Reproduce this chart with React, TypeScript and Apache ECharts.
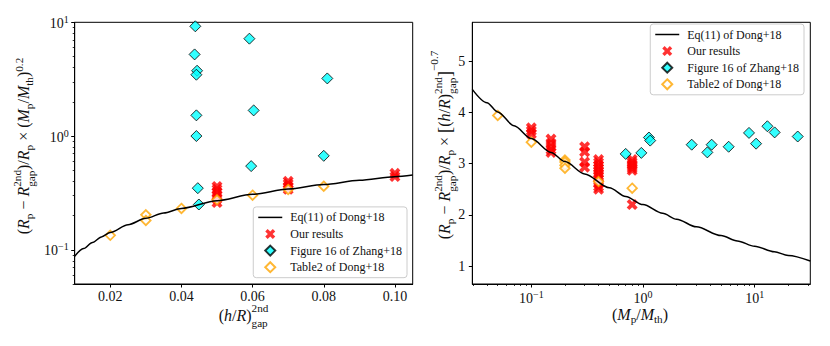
import React, { useEffect, useRef } from 'react';
import * as echarts from 'echarts';

// ---------- data ----------
// Left panel: x = (h/R)_gap^2nd, y = (Rp - Rgap)/Rp * (Mp/Mth)^0.2  (log y)
const leftCurveX = [0.01, 0.0125, 0.015, 0.0175, 0.02, 0.025, 0.03, 0.035, 0.04, 0.05, 0.06, 0.07, 0.08, 0.09, 0.1, 0.105];
const leftCurveY = [0.0876, 0.1024, 0.116, 0.1296, 0.142, 0.166, 0.189, 0.2106, 0.231, 0.27, 0.307, 0.342, 0.375, 0.408, 0.439, 0.454];
const leftOursX = [0.05, 0.05, 0.05, 0.05, 0.05, 0.05, 0.07, 0.07, 0.07, 0.07, 0.1, 0.1];
const leftOursY = [0.26, 0.28, 0.3, 0.32, 0.34, 0.36, 0.34, 0.36, 0.38, 0.4, 0.44, 0.47];
const leftZhangX = [0.0439, 0.0437, 0.0444, 0.0442, 0.0442, 0.0442, 0.0446, 0.0449, 0.0591, 0.0603, 0.0596, 0.081, 0.08];
const leftZhangY = [9.22, 5.22, 3.75, 3.46, 1.52, 1.0, 0.348, 0.25, 7.18, 1.68, 0.544, 3.21, 0.67];
const leftDongX = [0.02, 0.03, 0.03, 0.04, 0.05, 0.06, 0.07, 0.08];
const leftDongY = [0.134, 0.203, 0.181, 0.231, 0.275, 0.302, 0.339, 0.362];

// Right panel: x = Mp/Mth (log), y = (Rp - Rgap)/Rp * [(h/R)]^-0.7
const rightCurveX = [0.0296, 0.04, 0.05, 0.07, 0.1, 0.15, 0.2, 0.3, 0.5, 0.7, 1, 1.5, 2, 3, 5, 7, 10, 15, 20, 31.5];
const rightCurveY = [4.45, 4.19, 4.01, 3.74, 3.49, 3.22, 3.04, 2.8, 2.53, 2.36, 2.2, 2.03, 1.915, 1.766, 1.595, 1.491, 1.388, 1.28, 1.208, 1.1];
const rightOursX = [0.1, 0.1, 0.1, 0.15, 0.15, 0.15, 0.15, 0.15, 0.3, 0.3, 0.3, 0.3,
  0.4, 0.4, 0.4, 0.4, 0.4, 0.4, 0.4, 0.4, 0.4, 0.4, 0.4, 0.8, 0.8, 0.8, 0.8, 0.8, 0.8, 0.8];
const rightOursY = [3.7, 3.64, 3.58, 3.48, 3.4, 3.33, 3.27, 3.22, 3.33, 3.23, 3.03, 2.93,
  3.08, 3.02, 2.96, 2.91, 2.86, 2.81, 2.76, 2.7, 2.62, 2.55, 2.5, 3.08, 3.03, 2.99, 2.95, 2.91, 2.87, 2.2];
const rightZhangX = [0.7, 0.966, 1.13, 1.16, 2.73, 3.77, 4.12, 5.85, 8.9, 10.3, 13.0, 15.1, 24.3];
const rightZhangY = [3.19, 3.21, 3.51, 3.45, 3.37, 3.22, 3.37, 3.33, 3.6, 3.39, 3.73, 3.61, 3.53];
const rightDongX = [0.05, 0.1, 0.2, 0.2, 0.2, 0.2, 0.4, 0.8];
const rightDongY = [3.94, 3.42, 3.07, 3.03, 2.97, 2.91, 2.65, 2.52];

// ticks
const leftXTicks = [0.02, 0.04, 0.06, 0.08, 0.1];
const leftYMajor = [0.1, 1, 10];
const leftYMinor = [0.05, 0.06, 0.07, 0.08, 0.09, 0.2, 0.3, 0.4, 0.5, 0.6, 0.7, 0.8, 0.9, 2, 3, 4, 5, 6, 7, 8, 9];
const rightXMajor = [0.1, 1, 10];
const rightXMinor = [0.03, 0.04, 0.05, 0.06, 0.07, 0.08, 0.09, 0.2, 0.3, 0.4, 0.5, 0.6, 0.7, 0.8, 0.9, 2, 3, 4, 5, 6, 7, 8, 9, 20, 30];
const rightYTicks = [1, 2, 3, 4, 5];

const NAMES = ['Eq(11) of Dong+18', 'Our results', 'Figure 16 of Zhang+18', 'Table2 of Dong+18'];

// ---------- styling ----------
const SERIF = "'Liberation Serif', 'Times New Roman', serif";
const TXT = '#111';
const X_PATH = 'path://M0,2.4L2.4,0L5,2.6L7.6,0L10,2.4L7.4,5L10,7.6L7.6,10L5,7.4L2.4,10L0,7.6L2.6,5Z';
const DIAMOND_PATH = 'path://M5,0L10,5L5,10L0,5Z';
const LINE_ICON = 'path://M0,0L24,0L24,1.5L0,1.5Z';
const lg = (v: number) => Math.log10(v);

const powLabel = (v: number) => {
  const e = Math.round(v);
  return '{b|10}{s|' + (e < 0 ? '\u2212' + -e : String(e)) + '}';
};
const powRich = {
  b: { fontFamily: SERIF, fontSize: 14, lineHeight: 16, color: TXT, verticalAlign: 'bottom' },
  s: { fontFamily: SERIF, fontSize: 10, lineHeight: 8, color: TXT, verticalAlign: 'top' },
};

type Piece = { t: string; s?: number; i?: boolean; d?: number; st?: boolean };
const I = (t: string): Piece => ({ t, i: true });
const N = (t: string): Piece => ({ t });
const sub = (t: string): Piece => ({ t, s: 0.7, d: 0.22 });
const sup = (t: string, d = -0.42): Piece => ({ t, s: 0.7, d });
const supS = (t: string): Piece => ({ t, s: 0.7, d: -0.55 });
const subS = (t: string): Piece => ({ t, s: 0.7, d: 0.35, st: true });

function buildLabel(pieces: Piece[], M: number, ctx: CanvasRenderingContext2D) {
  const items: any[] = [];
  let x = 0, prevStart = 0, prevW = 0;
  for (const p of pieces) {
    const size = M * (p.s ?? 1);
    const fs = p.i ? 'italic' : 'normal';
    ctx.font = `${fs} ${size}px ${SERIF}`;
    const w = ctx.measureText(p.t).width;
    let start: number;
    if (p.st) {
      start = prevStart;
      const adv = Math.max(prevW, w);
      x = prevStart + adv;
      prevW = adv;
    } else {
      start = x;
      x += w;
      prevStart = start;
      prevW = w;
    }
    items.push({ t: p.t, x: start, y: (p.d ?? 0) * M - 0.32 * size, size, fs });
  }
  const total = x;
  return items.map((it) => ({
    type: 'text',
    x: it.x - total / 2,
    y: it.y,
    silent: true,
    style: {
      text: it.t, fontSize: it.size, fontFamily: SERIF, fontStyle: it.fs, fill: TXT, lineHeight: it.size,
      align: 'left', verticalAlign: 'middle', textAlign: 'left', textVerticalAlign: 'middle',
    },
  }));
}

const leftYTitle: Piece[] = [
  N('('), I('R'), sub('p'), N(' \u2212 '), I('R'), supS('2nd'), subS('gap'), N(')/'), I('R'), sub('p'),
  N(' \u00d7 ('), I('M'), sub('p'), N('/'), I('M'), sub('th'), N(')'), sup('0.2'),
];
const rightYTitle: Piece[] = [
  N('('), I('R'), sub('p'), N(' \u2212 '), I('R'), supS('2nd'), subS('gap'), N(')/'), I('R'), sub('p'),
  N(' \u00d7 '), { t: '[', s: 1.15, d: 0.05 }, N('('), I('h'), N('/'), I('R'), N(')'), supS('2nd'), subS('gap'),
  { t: ']', s: 1.15, d: 0.05 }, sup('\u22120.7', -0.75),
];
const leftXTitle: Piece[] = [N('('), I('h'), N('/'), I('R'), N(')'), supS('2nd'), subS('gap')];
const rightXTitle: Piece[] = [N('('), I('M'), sub('p'), N('/'), I('M'), sub('th'), N(')')];

const axisLineStyle = { color: '#000', width: 1 };
const labelBase = { fontFamily: SERIF, fontSize: 14, color: TXT };

function buildOption(ctx: CanvasRenderingContext2D) {
  const M = 16;
  const legendCommon = {
    data: [
      { name: NAMES[0], icon: LINE_ICON },
      { name: NAMES[1], icon: X_PATH },
      { name: NAMES[2], icon: DIAMOND_PATH },
      { name: NAMES[3], icon: DIAMOND_PATH },
    ],
    orient: 'vertical',
    itemWidth: 24,
    itemHeight: 10,
    itemGap: 2.6,
    symbolKeepAspect: true,
    padding: [3.5, 5, 3.5, 5],
    backgroundColor: 'rgba(255,255,255,0.8)',
    borderColor: '#cccccc',
    borderWidth: 1,
    borderRadius: 3,
    selectedMode: false,
    textStyle: { fontFamily: SERIF, fontSize: 12, lineHeight: 14, color: TXT, padding: [0, 0, 0, 3] },
  };
  const gridCommon = { top: 22.3, width: 338, height: 261.7, show: true, borderColor: '#000', borderWidth: 1, outerBoundsMode: 'none' };

  const lineS = (xs: number[], ys: number[], fx: (v: number) => number, fy: (v: number) => number, idx: number) => ({
    name: NAMES[0], type: 'line', xAxisIndex: idx, yAxisIndex: idx, symbol: 'none', smooth: 0.3, smoothMonotone: 'x',
    lineStyle: { color: '#000', width: 1.5 }, itemStyle: { color: '#000' },
    data: xs.map((x, i) => [fx(x), fy(ys[i])]), silent: true,
  });
  const oursS = (xs: number[], ys: number[], fx: (v: number) => number, fy: (v: number) => number, idx: number) => ({
    name: NAMES[1], type: 'scatter', xAxisIndex: idx, yAxisIndex: idx, symbol: X_PATH, symbolSize: 11, symbolKeepAspect: true,
    itemStyle: { color: '#ff0000' }, data: xs.map((x, i) => [fx(x), fy(ys[i])]), silent: true,
  });
  const zhangS = (xs: number[], ys: number[], fx: (v: number) => number, fy: (v: number) => number, idx: number) => ({
    name: NAMES[2], type: 'scatter', xAxisIndex: idx, yAxisIndex: idx, symbol: 'diamond', symbolSize: 11, symbolKeepAspect: true,
    itemStyle: { color: '#00ffff', borderColor: '#000', borderWidth: 1 },
    data: xs.map((x, i) => [fx(x), fy(ys[i])]), silent: true,
  });
  const dongS = (xs: number[], ys: number[], fx: (v: number) => number, fy: (v: number) => number, idx: number) => ({
    name: NAMES[3], type: 'scatter', xAxisIndex: idx, yAxisIndex: idx, symbol: 'diamond', symbolSize: 9.5, symbolKeepAspect: true,
    itemStyle: { color: '#ffffff', borderColor: '#ffa500', borderWidth: 1.8 },
    data: xs.map((x, i) => [fx(x), fy(ys[i])]), silent: true,
  });
  const id = (v: number) => v;
  const mainLine = { show: true, onZero: false, lineStyle: axisLineStyle };
  const noLine = { show: false, onZero: false };

  return {
    animation: false,
    backgroundColor: '#fff',
    grid: [{ ...gridCommon, left: 74.7 }, { ...gridCommon, left: 472.3 }],
    xAxis: [
      {
        gridIndex: 0, type: 'value', position: 'bottom', min: 0.01, max: 0.105,
        axisLine: mainLine,
        axisTick: { show: true, inside: false, length: 3.5, lineStyle: axisLineStyle, customValues: leftXTicks },
        axisLabel: { ...labelBase, margin: 5, customValues: leftXTicks, formatter: (v: number) => v.toFixed(2) },
        splitLine: { show: false },
      },
      {
        gridIndex: 1, type: 'value', position: 'bottom', min: lg(0.0296), max: lg(31.5),
        axisLine: mainLine,
        axisTick: { show: true, inside: false, length: 3.5, lineStyle: axisLineStyle, customValues: rightXMajor.map(lg) },
        axisLabel: { ...labelBase, margin: 5.5, customValues: rightXMajor.map(lg), formatter: powLabel, rich: powRich },
        splitLine: { show: false },
      },
      {
        gridIndex: 1, type: 'value', position: 'bottom', min: lg(0.0296), max: lg(31.5),
        axisLine: noLine,
        axisTick: { show: true, inside: false, length: 2, lineStyle: { color: '#000', width: 0.8 }, customValues: rightXMinor.map(lg) },
        axisLabel: { show: false },
        splitLine: { show: false },
      },
    ],
    yAxis: [
      {
        gridIndex: 0, type: 'value', position: 'left', min: lg(0.05), max: 1,
        axisLine: mainLine,
        axisTick: { show: true, inside: false, length: 3.5, lineStyle: axisLineStyle, customValues: leftYMajor.map(lg) },
        axisLabel: { ...labelBase, margin: 6, customValues: leftYMajor.map(lg), formatter: powLabel, rich: powRich },
        splitLine: { show: false },
      },
      {
        gridIndex: 1, type: 'value', position: 'left', min: 0.65, max: 5.76,
        axisLine: mainLine,
        axisTick: { show: true, inside: false, length: 3.5, lineStyle: axisLineStyle, customValues: rightYTicks },
        axisLabel: { ...labelBase, margin: 7, customValues: rightYTicks, formatter: (v: number) => String(v) },
        splitLine: { show: false },
      },
      {
        gridIndex: 0, type: 'value', position: 'left', min: lg(0.05), max: 1,
        axisLine: noLine,
        axisTick: { show: true, inside: false, length: 2, lineStyle: { color: '#000', width: 0.8 }, customValues: leftYMinor.map(lg) },
        axisLabel: { show: false },
        splitLine: { show: false },
      },
    ],
    legend: [
      { ...legendCommon, right: 423, bottom: 68.3 },
      { ...legendCommon, right: 26, top: 24 },
    ],
    series: [
      lineS(leftCurveX, leftCurveY, id, lg, 0),
      oursS(leftOursX, leftOursY, id, lg, 0),
      zhangS(leftZhangX, leftZhangY, id, lg, 0),
      dongS(leftDongX, leftDongY, id, lg, 0),
      lineS(rightCurveX, rightCurveY, lg, id, 1),
      oursS(rightOursX, rightOursY, lg, id, 1),
      zhangS(rightZhangX, rightZhangY, lg, id, 1),
      dongS(rightDongX, rightDongY, lg, id, 1),
    ],
    graphic: [
      { type: 'group', x: 29, y: 146, rotation: Math.PI / 2, silent: true, children: buildLabel(leftYTitle, M, ctx) },
      { type: 'group', x: 450, y: 145, rotation: Math.PI / 2, silent: true, children: buildLabel(rightYTitle, M, ctx) },
      { type: 'group', x: 243.5, y: 320.6, silent: true, children: buildLabel(leftXTitle, M, ctx) },
      { type: 'group', x: 640, y: 319.2, silent: true, children: buildLabel(rightXTitle, M, ctx) },
    ],
  };
}

export default function App() {
  const ref = useRef<HTMLDivElement>(null);
  useEffect(() => {
    if (!ref.current) return;
    const chart = echarts.init(ref.current, undefined, { renderer: 'svg' });
    const ctx = document.createElement('canvas').getContext('2d') as CanvasRenderingContext2D;
    chart.setOption(buildOption(ctx) as any);
    return () => chart.dispose();
  }, []);
  return (
    <div
      ref={ref}
      style={{ position: 'fixed', left: 0, top: 0, width: 830, height: 346, background: '#fff' }}
    />
  );
}
